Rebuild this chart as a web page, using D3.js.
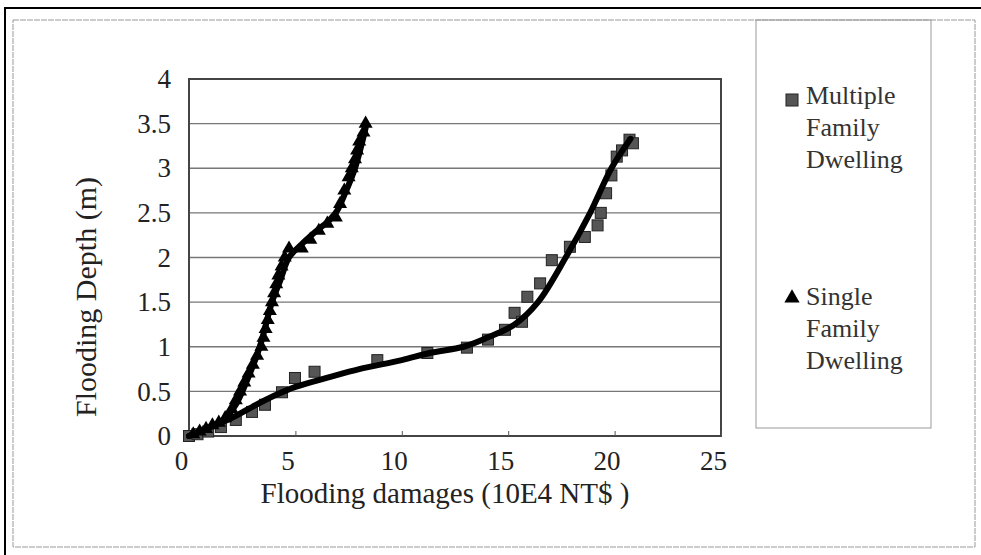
<!DOCTYPE html>
<html><head><meta charset="utf-8">
<script src="https://cdn.jsdelivr.net/npm/d3@7"></script>
<style>html,body{margin:0;padding:0;background:#fff;}svg{display:block;}</style>
</head><body>
<svg id="c" width="981" height="555"></svg>
<script>
// ---- data ----
const xTicks = [0, 5, 10, 15, 20, 25];
const yTicks = [0, 0.5, 1, 1.5, 2, 2.5, 3, 3.5, 4];
const seriesNames = ["Multiple Family Dwelling", "Single Family Dwelling"];
const xTitle = "Flooding damages (10E4 NT$ )";
const yTitle = "Flooding Depth (m)";

// Multiple Family Dwelling (squares): [damage, depth]
const multipleX = [0, 0.4, 0.9, 1.5, 2.2, 2.96, 3.57, 4.37, 4.98, 5.9, 8.85, 11.2, 13.06, 14.05, 14.85, 15.3, 15.65, 15.9, 16.5, 17.05, 17.9, 18.6, 19.2, 19.35, 19.6, 19.85, 20.1, 20.35, 20.7, 20.86];
const multipleY = [0, 0.02, 0.05, 0.1, 0.18, 0.27, 0.35, 0.49, 0.65, 0.72, 0.85, 0.93, 0.99, 1.08, 1.19, 1.38, 1.28, 1.56, 1.71, 1.97, 2.12, 2.23, 2.36, 2.5, 2.72, 2.92, 3.13, 3.2, 3.32, 3.28];

// Single Family Dwelling (triangles)
const singleX = [0.2, 0.5, 0.8, 1.1, 1.4, 1.7, 2.0, 2.2, 2.4, 2.6, 2.8, 3.0, 3.2, 3.4, 3.5, 3.6, 3.7, 3.8, 3.9, 4.0, 4.1, 4.2, 4.35, 4.5, 4.7, 5.3, 5.7, 6.1, 6.5, 6.9, 7.1, 7.3, 7.5, 7.65, 7.8, 7.9, 8.0, 8.2, 8.3];
const singleY = [0.02, 0.05, 0.08, 0.12, 0.15, 0.2, 0.3, 0.4, 0.5, 0.6, 0.7, 0.8, 0.9, 1.0, 1.1, 1.2, 1.3, 1.4, 1.5, 1.6, 1.7, 1.8, 1.9, 2.0, 2.1, 2.1, 2.2, 2.3, 2.38, 2.45, 2.6, 2.75, 2.9, 3.0, 3.1, 3.2, 3.3, 3.4, 3.5];

// fitted trend curves (black)
const multipleTrendX = [0, 1, 2, 3, 4, 5, 6.6, 8, 10, 11.3, 12.9, 14, 15.3, 16.4, 17.7, 18.85, 19.85, 20.75];
const multipleTrendY = [0, 0.1, 0.2, 0.33, 0.45, 0.55, 0.66, 0.75, 0.85, 0.93, 1.0, 1.1, 1.25, 1.5, 2.0, 2.5, 3.0, 3.33];
const singleTrendX = [0, 1, 1.7, 2.2, 2.6, 3.3, 3.9, 4.3, 4.7, 5.3, 6.0, 6.6, 6.95, 7.3, 7.8, 8.3];
const singleTrendY = [0, 0.1, 0.2, 0.35, 0.55, 0.98, 1.5, 1.75, 2.0, 2.15, 2.3, 2.42, 2.52, 2.7, 3.0, 3.45];

// ---- drawing ----
const svg = d3.select("#c");
const FONT = "'Liberation Serif','Times New Roman',serif";
const x = d3.scaleLinear().domain([0, 25]).range([189, 721]);
const y = d3.scaleLinear().domain([0, 4]).range([436, 79]);

// outer frames
svg.append("rect").attr("x", 5).attr("y", 8).attr("width", 990).attr("height", 560)
  .attr("fill", "none").attr("stroke", "#000").attr("stroke-width", 2);
svg.append("rect").attr("x", 13).attr("y", 20).attr("width", 962).attr("height", 527)
  .attr("fill", "none").attr("stroke", "#999").attr("stroke-width", 1).attr("stroke-dasharray", "6,1");

// legend box
svg.append("rect").attr("x", 756).attr("y", 20).attr("width", 175).attr("height", 408)
  .attr("fill", "none").attr("stroke", "#999").attr("stroke-width", 1);

// gridlines
svg.append("g").selectAll("line").data(yTicks.filter(d => d > 0 && d < 4)).join("line")
  .attr("x1", x(0)).attr("x2", x(25)).attr("y1", d => y(d)).attr("y2", d => y(d))
  .attr("stroke", "#777").attr("stroke-width", 1.3);

// plot border
svg.append("rect").attr("x", x(0)).attr("y", y(4)).attr("width", x(25) - x(0)).attr("height", y(0) - y(4))
  .attr("fill", "none").attr("stroke", "#444").attr("stroke-width", 2);

// x axis ticks (inside) + labels
const xAxis = d3.axisBottom(x).tickValues(xTicks).tickSize(-5).tickPadding(0).tickFormat(d3.format("d"));
const gx = svg.append("g").attr("transform", `translate(0,${y(0)})`).call(xAxis);
gx.select(".domain").remove();
gx.selectAll(".tick line").attr("stroke", "#555").attr("stroke-width", 1);
gx.selectAll("text").attr("font-family", FONT).attr("font-size", 27).attr("fill", "#222")
  .attr("dx", -8).attr("y", 34).attr("dy", 0);

// y axis labels
const yAxis = d3.axisLeft(y).tickValues(yTicks).tickSize(0).tickPadding(18).tickFormat(d3.format("~g"));
const gy = svg.append("g").attr("transform", `translate(${x(0)},0)`).call(yAxis);
gy.select(".domain").remove();
gy.selectAll("text").attr("font-family", FONT).attr("font-size", 27).attr("fill", "#222");

// axis titles
svg.append("text").attr("x", 445).attr("y", 503).attr("text-anchor", "middle")
  .attr("font-family", FONT).attr("font-size", 29).attr("fill", "#222").text(xTitle);
svg.append("text").attr("transform", "translate(96,297) rotate(-90)").attr("text-anchor", "middle")
  .attr("font-family", FONT).attr("font-size", 30).attr("fill", "#222").text(yTitle);

const zip = (a, b) => a.map((v, i) => [v, b[i]]);
const triSym = d3.symbol().type(d3.symbolTriangle).size(85);

// markers
svg.append("g").selectAll("rect").data(zip(multipleX, multipleY)).join("rect")
  .attr("x", d => x(d[0]) - 5.5).attr("y", d => y(d[1]) - 5.5).attr("width", 11).attr("height", 11)
  .attr("fill", "#555").attr("stroke", "#222").attr("stroke-width", 1);
svg.append("g").selectAll("path").data(zip(singleX, singleY)).join("path")
  .attr("transform", d => `translate(${x(d[0])},${y(d[1])})`).attr("d", triSym).attr("fill", "#000");

// trend lines
const line = d3.line().x(d => x(d[0])).y(d => y(d[1])).curve(d3.curveCatmullRom.alpha(0.5));
svg.append("path").datum(zip(multipleTrendX, multipleTrendY)).attr("d", line)
  .attr("fill", "none").attr("stroke", "#000").attr("stroke-width", 6).attr("stroke-linecap", "round");
svg.append("path").datum(zip(singleTrendX, singleTrendY)).attr("d", line)
  .attr("fill", "none").attr("stroke", "#000").attr("stroke-width", 6).attr("stroke-linecap", "round");

// legend
const lg = svg.append("g");
lg.append("rect").attr("x", 786).attr("y", 94).attr("width", 12).attr("height", 12)
  .attr("fill", "#555").attr("stroke", "#222");
lg.append("path").attr("transform", "translate(792,298)").attr("d", d3.symbol().type(d3.symbolTriangle).size(100)).attr("fill", "#000");
const legendLines = [["Multiple", "Family", "Dwelling"], ["Single", "Family", "Dwelling"]];
const legendTop = [104, 305];
legendLines.forEach((ls, i) => {
  const t = lg.append("text").attr("font-family", FONT).attr("font-size", 26).attr("fill", "#333");
  ls.forEach((s, j) => t.append("tspan").attr("x", 806).attr("y", legendTop[i] + j * 32).text(s));
});
</script>
</body></html>
